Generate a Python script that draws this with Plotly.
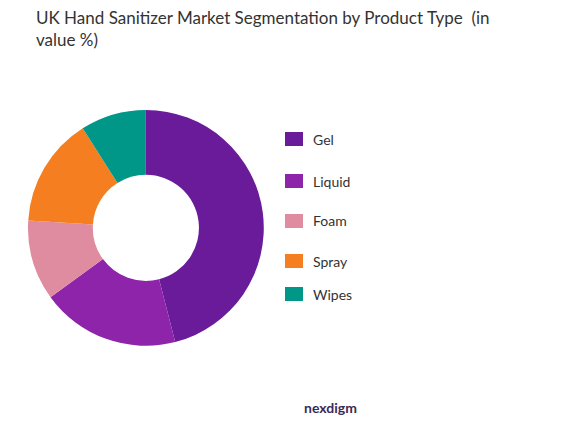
import plotly.graph_objects as go

labels = ["Gel", "Liquid", "Foam", "Spray", "Wipes"]
values = [46, 19, 11, 15, 9]
colors = ["#6a1b9a", "#8e24aa", "#e08ca0", "#f57f20", "#009688"]

W, H = 588, 429

fig = go.Figure(go.Pie(
    labels=labels, values=values, hole=0.45, sort=False, direction="clockwise",
    rotation=0, marker=dict(colors=colors), textinfo="none", hoverinfo="label+percent",
    domain=dict(x=[0.034, 0.435], y=[0.212, 0.763]), showlegend=False,
))

# legend drawn by hand to match the wide spacing
leg_y = [131, 173, 213, 253, 286]
for lab, col, yy in zip(labels, colors, leg_y):
    fig.add_shape(type="rect", xref="paper", yref="paper",
                  x0=277 / W, x1=295 / W, y0=1 - (yy + 7) / H, y1=1 - (yy - 7) / H,
                  fillcolor=col, line_width=0)
    fig.add_annotation(x=303 / W, y=1 - yy / H, xref="paper", yref="paper",
                       text=lab, showarrow=False, xanchor="left", yanchor="middle",
                       font=dict(size=14, color="#333"))

fig.add_annotation(x=322 / W, y=1 - 410 / H, xref="paper", yref="paper",
                   text="<b>nexdigm</b>", showarrow=False, xanchor="center",
                   font=dict(size=14, color="#3a2a5a"))

fig.update_layout(
    width=W, height=H, margin=dict(l=0, r=0, t=0, b=0),
    paper_bgcolor="white", plot_bgcolor="white",
    font=dict(family="Lato", color="#333"),
    title=dict(text="UK Hand Sanitizer Market Segmentation by Product Type  (in<br>value %)",
               x=28 / W, xanchor="left", y=1 - 16 / H, yanchor="top",
               font=dict(size=17, color="#333")),
)

fig.write_html("out.html")
